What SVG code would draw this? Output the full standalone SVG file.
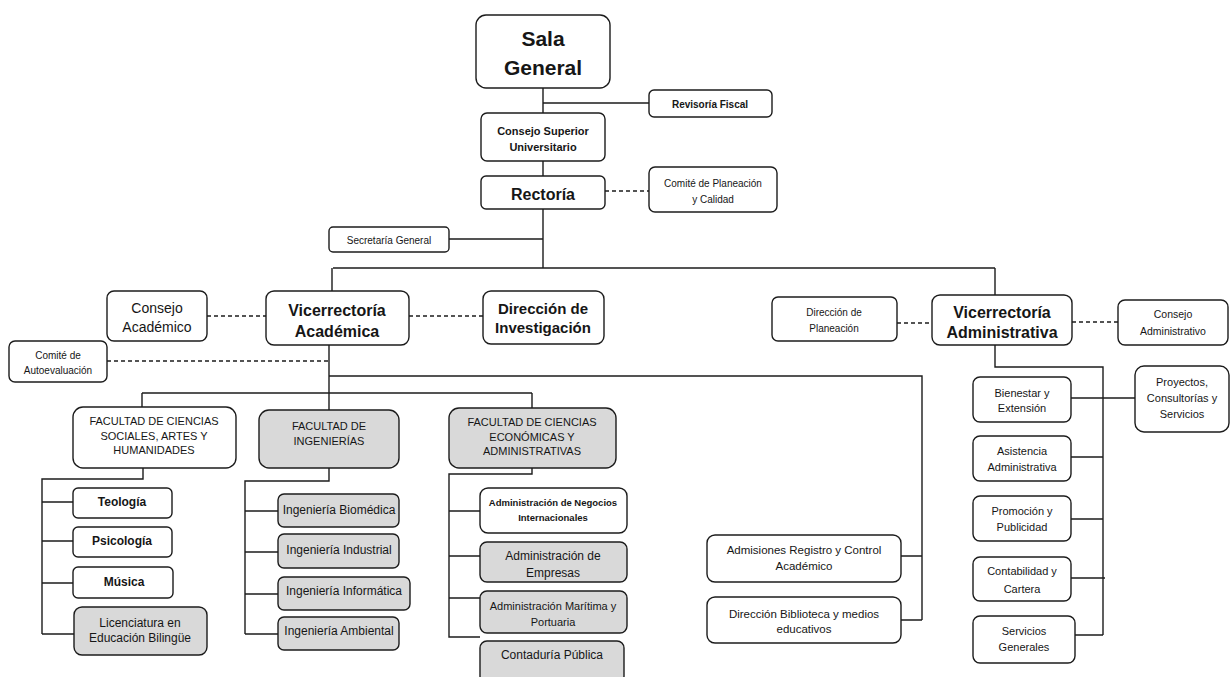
<svg xmlns="http://www.w3.org/2000/svg" width="1230" height="677" viewBox="0 0 1230 677">
<style>
.b{fill:#fff;stroke:#1c1c1c;stroke-width:1.4}
.g{fill:#d9d9d9}
.ln{fill:none;stroke:#1c1c1c;stroke-width:1.4}
.d{stroke-dasharray:4 3}
text{font-family:"Liberation Sans Narrow","Arial Narrow","Liberation Sans",Arial,sans-serif;fill:#161616;text-anchor:middle;dominant-baseline:central}
.bd{font-weight:bold}
</style>
<rect width="1230" height="677" fill="#fff"/>
<g id="connectors">
<path class="ln" d="M543 88V113M543 103H649M543 161V176M543 209V268M449 239H543M333 268H995M332 268V291M995 268V295"/>
<path class="ln d" d="M605 191H649M207 316H266M409 316H483M107 361H329M897 323H932M1072 322H1118"/>
<path class="ln" d="M329 345V393M329 376H922V620M901 556H922M901 620H922"/>
<path class="ln" d="M142 393H532M142 393V407M329 393V410M532 393V408"/>
<path class="ln" d="M143 468V479H42V634M42 502H73M42 541H73M42 583H73M42 634H74"/>
<path class="ln" d="M329 468V481H245V634M245 511H278M245 552H278M245 594H278M245 634H278"/>
<path class="ln" d="M532 468V474H449V637H480M449 511H480M449 556H480M449 598H480"/>
<path class="ln" d="M995 345V367H1103V635M1071 398H1135M1071 457H1103M1071 519H1103M1071 578H1105M1075 635H1103"/>
</g>
<g id="sala"><rect class="b" x="476" y="15" width="134" height="73" rx="10"/><text class="bd" x="543" y="38" font-size="21">Sala</text><text class="bd" x="543" y="67" font-size="21">General</text></g>
<g id="revisoria"><rect class="b" x="649" y="90" width="123" height="27" rx="5"/><text class="bd" x="710" y="104" font-size="10">Revisoría Fiscal</text></g>
<g id="consejo-superior"><rect class="b" x="481" y="113" width="124" height="48" rx="6"/><text class="bd" x="543" y="131" font-size="11">Consejo Superior</text><text class="bd" x="543" y="147" font-size="11">Universitario</text></g>
<g id="rectoria"><rect class="b" x="481" y="176" width="124" height="33" rx="5"/><text class="bd" x="543" y="194" font-size="16">Rectoría</text></g>
<g id="comite-planeacion"><rect class="b" x="649" y="167" width="128" height="45" rx="6"/><text x="713" y="183" font-size="10">Comité de Planeación</text><text x="713" y="199" font-size="10">y Calidad</text></g>
<g id="secretaria"><rect class="b" x="329" y="227" width="120" height="25" rx="4"/><text x="389" y="240" font-size="10">Secretaría General</text></g>
<g id="consejo-academico"><rect class="b" x="107" y="291" width="100" height="50" rx="7"/><text x="157" y="308" font-size="14">Consejo</text><text x="157" y="327" font-size="14">Académico</text></g>
<g id="vic-academica"><rect class="b" x="266" y="291" width="143" height="54" rx="8"/><text class="bd" x="337" y="310" font-size="16">Vicerrectoría</text><text class="bd" x="337" y="331" font-size="16">Académica</text></g>
<g id="dir-investigacion"><rect class="b" x="483" y="291" width="121" height="53" rx="8"/><text class="bd" x="543" y="308" font-size="15">Dirección de</text><text class="bd" x="543" y="327" font-size="15">Investigación</text></g>
<g id="comite-autoevaluacion"><rect class="b" x="9" y="341" width="98" height="41" rx="6"/><text x="58" y="355" font-size="10">Comité de</text><text x="58" y="370" font-size="10">Autoevaluación</text></g>
<g id="dir-planeacion"><rect class="b" x="772" y="297" width="125" height="44" rx="6"/><text x="834" y="312" font-size="10">Dirección de</text><text x="834" y="328" font-size="10">Planeación</text></g>
<g id="vic-administrativa"><rect class="b" x="932" y="295" width="140" height="50" rx="8"/><text class="bd" x="1002" y="312" font-size="16">Vicerrectoría</text><text class="bd" x="1002" y="332" font-size="16">Administrativa</text></g>
<g id="consejo-administrativo"><rect class="b" x="1118" y="300" width="110" height="45" rx="7"/><text x="1173" y="314" font-size="10.5">Consejo</text><text x="1173" y="331" font-size="10.5">Administrativo</text></g>
<g id="fac-sociales"><rect class="b" x="73" y="407" width="163" height="61" rx="10"/><text x="154" y="421" font-size="11">FACULTAD DE CIENCIAS</text><text x="154" y="436" font-size="11">SOCIALES, ARTES Y</text><text x="154" y="450" font-size="11">HUMANIDADES</text></g>
<g id="fac-ingenierias"><rect class="b g" x="259" y="410" width="140" height="58" rx="10"/><text x="329" y="426" font-size="11">FACULTAD DE</text><text x="329" y="441" font-size="11">INGENIERÍAS</text></g>
<g id="fac-economicas"><rect class="b g" x="449" y="408" width="167" height="60" rx="10"/><text x="532" y="422" font-size="11">FACULTAD DE CIENCIAS</text><text x="532" y="437" font-size="11">ECONÓMICAS Y</text><text x="532" y="451" font-size="11">ADMINISTRATIVAS</text></g>
<g id="teologia"><rect class="b" x="73" y="488" width="99" height="30" rx="5"/><text class="bd" x="122" y="502" font-size="12">Teología</text></g>
<g id="psicologia"><rect class="b" x="73" y="527" width="99" height="30" rx="5"/><text class="bd" x="122" y="541" font-size="12">Psicología</text></g>
<g id="musica"><rect class="b" x="73" y="567" width="100" height="31" rx="5"/><text class="bd" x="124" y="582" font-size="12">Música</text></g>
<g id="licenciatura"><rect class="b g" x="74" y="607" width="133" height="48" rx="8"/><text x="140" y="623" font-size="12">Licenciatura en</text><text x="140" y="638" font-size="12">Educación Bilingüe</text></g>
<g id="ing-biomedica"><rect class="b g" x="278" y="494" width="121" height="33" rx="6"/><text x="339" y="510" font-size="12">Ingeniería Biomédica</text></g>
<g id="ing-industrial"><rect class="b g" x="278" y="534" width="121" height="34" rx="6"/><text x="339" y="550" font-size="12">Ingeniería Industrial</text></g>
<g id="ing-informatica"><rect class="b g" x="278" y="577" width="132" height="33" rx="6"/><text x="344" y="591" font-size="12">Ingeniería Informática</text></g>
<g id="ing-ambiental"><rect class="b g" x="278" y="617" width="121" height="33" rx="6"/><text x="339" y="631" font-size="12">Ingeniería  Ambiental</text></g>
<g id="adm-negocios"><rect class="b" x="480" y="488" width="147" height="45" rx="8"/><text class="bd" x="553" y="502" font-size="9.5">Administración de Negocios</text><text class="bd" x="553" y="517" font-size="9.5">Internacionales</text></g>
<g id="adm-empresas"><rect class="b g" x="480" y="542" width="147" height="40" rx="7"/><text x="553" y="556" font-size="12">Administración de</text><text x="553" y="573" font-size="12">Empresas</text></g>
<g id="adm-maritima"><rect class="b g" x="480" y="591" width="147" height="42" rx="7"/><text x="553" y="606" font-size="11">Administración Marítima y</text><text x="553" y="622" font-size="11">Portuaria</text></g>
<g id="contaduria"><rect class="b g" x="480" y="641" width="144" height="42" rx="7"/><text x="552" y="655" font-size="12">Contaduría Pública</text></g>
<g id="admisiones"><rect class="b" x="707" y="535" width="194" height="47" rx="8"/><text x="804" y="550" font-size="11.5">Admisiones Registro y Control</text><text x="804" y="566" font-size="11.5">Académico</text></g>
<g id="biblioteca"><rect class="b" x="707" y="597" width="194" height="46" rx="8"/><text x="804" y="614" font-size="11.5">Dirección Biblioteca y medios</text><text x="804" y="629" font-size="11.5">educativos</text></g>
<g id="bienestar"><rect class="b" x="973" y="377" width="98" height="45" rx="7"/><text x="1022" y="393" font-size="11">Bienestar y</text><text x="1022" y="408" font-size="11">Extensión</text></g>
<g id="proyectos"><rect class="b" x="1135" y="366" width="94" height="66" rx="9"/><text x="1182" y="382" font-size="11">Proyectos,</text><text x="1182" y="398" font-size="11">Consultorías y</text><text x="1182" y="414" font-size="11">Servicios</text></g>
<g id="asistencia"><rect class="b" x="973" y="436" width="98" height="45" rx="7"/><text x="1022" y="451" font-size="11">Asistencia</text><text x="1022" y="467" font-size="11">Administrativa</text></g>
<g id="promocion"><rect class="b" x="973" y="496" width="98" height="45" rx="7"/><text x="1022" y="511" font-size="11">Promoción y</text><text x="1022" y="527" font-size="11">Publicidad</text></g>
<g id="contabilidad"><rect class="b" x="973" y="557" width="98" height="44" rx="7"/><text x="1022" y="571" font-size="11">Contabilidad y</text><text x="1022" y="589" font-size="11">Cartera</text></g>
<g id="servicios"><rect class="b" x="973" y="616" width="102" height="47" rx="7"/><text x="1024" y="631" font-size="11">Servicios</text><text x="1024" y="647" font-size="11">Generales</text></g>
</svg>
